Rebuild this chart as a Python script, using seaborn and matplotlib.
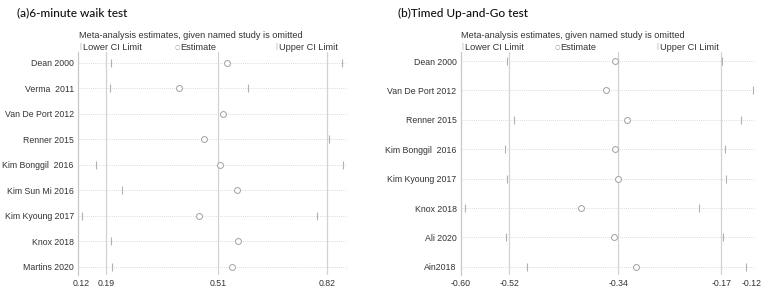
import matplotlib
matplotlib.use("Agg")
import matplotlib.pyplot as plt
import seaborn as sns
import pandas as pd

sns.set_theme(style="white")
plt.rcParams['font.family'] = ['Liberation Sans', 'DejaVu Sans']

# ---- data: panel (a) 6-minute walk test ----
studies_a = ["Dean 2000", "Verma  2011", "Van De Port 2012", "Renner 2015",
             "Kim Bonggil  2016", "Kim Sun Mi 2016", "Kim Kyoung 2017",
             "Knox 2018", "Martins 2020"]
est_a = [0.534, 0.399, 0.524, 0.468, 0.514, 0.563, 0.456, 0.567, 0.550]
low_a = [0.204, 0.202, 0.109, 0.111, 0.161, 0.236, 0.121, 0.203, 0.208]
up_a = [0.863, 0.596, 0.880, 0.827, 0.866, 0.880, 0.792, 0.880, 0.880]
ticks_a = [0.12, 0.19, 0.51, 0.82]
ref_a = [0.19, 0.51, 0.82]

# ---- data: panel (b) Timed Up-and-Go test ----
studies_b = ["Dean 2000", "Van De Port 2012", "Renner 2015", "Kim Bonggil  2016",
             "Kim Kyoung 2017", "Knox 2018", "Ali 2020", "Ain2018"]
est_b = [-0.346, -0.360, -0.325, -0.346, -0.341, -0.401, -0.347, -0.311]
low_b = [-0.523, -0.600, -0.512, -0.527, -0.523, -0.593, -0.526, -0.491]
up_b = [-0.169, -0.118, -0.138, -0.164, -0.162, -0.207, -0.168, -0.130]
ticks_b = [-0.60, -0.52, -0.34, -0.17, -0.12]
ref_b = [-0.52, -0.34, -0.17]

W, H = 767, 290
fig = plt.figure(figsize=(W / 100, H / 100), dpi=100)

GRAY = "#b0b0b0"
REF = "#d2d2d2"
TXT = "#333333"
LFS = 6.6


def panel(rect, studies, est, low, up, ticks, refs, xlim, ylim, title, title_x, legend_x):
    ax = fig.add_axes(rect)
    df = pd.DataFrame({"study": studies, "est": est, "low": low, "up": up})
    df["pos"] = range(len(df))
    for r in refs:
        ax.axvline(r, color=REF, lw=0.9, zorder=0)
    ax.hlines(df["pos"], xlim[0], xlim[1], colors="#d0d0d0", lw=0.6,
              linestyles=(0, (1, 1.5)), zorder=1)
    sns.scatterplot(data=df, x="low", y="pos", marker="|", s=30, color=GRAY,
                    linewidth=0.8, ax=ax, zorder=2)
    sns.scatterplot(data=df, x="up", y="pos", marker="|", s=30, color=GRAY,
                    linewidth=0.8, ax=ax, zorder=2)
    sns.scatterplot(data=df, x="est", y="pos", marker="o", s=18, facecolor="white",
                    edgecolor="#a0a0a0", linewidth=0.7, ax=ax, zorder=3)
    ax.set_xlim(*xlim)
    ax.set_ylim(*ylim)
    ax.set_yticks(df["pos"])
    ax.set_yticklabels(studies, fontsize=6.3, color=TXT)
    ax.set_xticks(ticks)
    ax.set_xticklabels([f"{t:.2f}" for t in ticks], fontsize=6.3, color=TXT)
    ax.tick_params(axis="both", length=0, pad=3)
    ax.set_xlabel("")
    ax.set_ylabel("")
    for s in ["top", "right", "bottom"]:
        ax.spines[s].set_visible(False)
    ax.spines["left"].set_color("#c8c8c8")
    ax.spines["left"].set_linewidth(0.9)
    # header texts
    fig.text(title_x / W, 1 - 13 / H, title, fontsize=8.6, family=["Lato", "DejaVu Sans"],
             fontweight="medium", color="#111111", va="center", ha="left")
    fig.text(legend_x[0] / W, 1 - 35 / H,
             "Meta-analysis estimates, given named study is omitted",
             fontsize=LFS, color=TXT, va="center", ha="left")
    fig.text(legend_x[0] / W, 1 - 47 / H, "|", fontsize=5.5, color="#aaaaaa",
             va="center", ha="left")
    fig.text((legend_x[0] + 4) / W, 1 - 47 / H, "Lower CI Limit", fontsize=LFS, color=TXT,
             va="center", ha="left")
    fig.text(legend_x[1] / W, 1 - 47 / H, "○", fontsize=4.5, color="#999999",
             va="center", ha="left", family=["DejaVu Sans"])
    fig.text((legend_x[1] + 5) / W, 1 - 47 / H, "Estimate", fontsize=LFS, color=TXT,
             va="center", ha="left")
    fig.text(legend_x[2] / W, 1 - 47 / H, "|", fontsize=5.5, color="#aaaaaa",
             va="center", ha="left")
    fig.text((legend_x[2] + 4) / W, 1 - 47 / H, "Upper CI Limit", fontsize=LFS, color=TXT,
             va="center", ha="left")
    return ax


panel([78 / W, 1 - 275 / H, 269 / W, 223 / H], studies_a, est_a, low_a, up_a,
      ticks_a, ref_a, (0.11, 0.877), (8.33, -0.42), "(a)6-minute waik test", 17,
      (79, 175, 275))
panel([460.7 / W, 1 - 275 / H, 294 / W, 223 / H], studies_b, est_b, low_b, up_b,
      ticks_b, ref_b, (-0.60, -0.115), (7.28, -0.31), "(b)Timed Up-and-Go test", 398,
      (461, 555, 656))

fig.savefig("out.png", dpi=100, facecolor="white")
